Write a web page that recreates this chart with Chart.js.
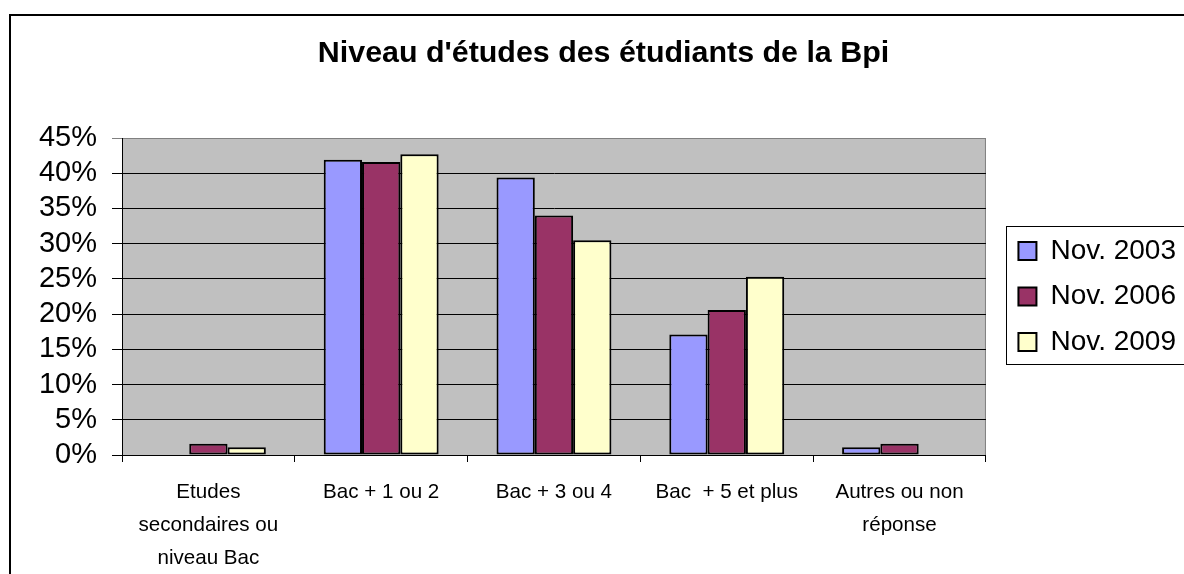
<!DOCTYPE html>
<html>
<head>
<meta charset="utf-8">
<script src="https://cdn.jsdelivr.net/npm/chart.js@4.4.0/dist/chart.umd.min.js"></script>
<style>
    html, body { margin: 0; padding: 0; background: #fff; overflow: hidden; }
    canvas { display: block; }
</style>
</head>
<body>
<canvas id="bar-chart" width="1186" height="574"></canvas>
<script>
var categories = [
    ['Etudes', 'secondaires ou', 'niveau Bac'],
    'Bac + 1 ou 2',
    'Bac + 3 ou 4',
    'Bac  + 5 et plus',
    ['Autres ou non', 'réponse']
]
var seriesNames = ['Nov. 2003', 'Nov. 2006', 'Nov. 2009']
var nov2003 = [null, 41.9, 39.4, 17.1, 1.1]
var nov2006 = [1.6, 41.6, 34.0, 20.6, 1.6]
var nov2009 = [1.1, 42.7, 30.5, 25.3, null]
var yTicks = [0, 5, 10, 15, 20, 25, 30, 35, 40, 45]
var colorList = ['#9999ff', '#993366', '#ffffcc']

Chart.defaults.font.family = "'Liberation Sans', Arial, sans-serif"
Chart.defaults.color = '#000'

// grey plot area, legend frame and the outer chart border
var framePlugin = {
    id: 'frame',
    beforeDraw: function (chart) {
        var a = chart.chartArea
        var ctx = chart.ctx
        ctx.save()
        ctx.fillStyle = '#c0c0c0'
        ctx.fillRect(a.left, a.top, a.right - a.left, a.bottom - a.top)
        ctx.strokeStyle = '#808080'
        ctx.lineWidth = 1
        ctx.strokeRect(a.left + 0.5, a.top + 0.5, a.right - a.left - 1, a.bottom - a.top)
        ctx.restore()
    },
    afterDraw: function (chart) {
        var ctx = chart.ctx
        var lg = chart.legend
        var boxes = lg.legendHitBoxes
        var last = boxes[boxes.length - 1]
        var top = Math.round(boxes[0].top - 11)
        var bottom = Math.round(last.top + last.height + 8)
        ctx.save()
        ctx.strokeStyle = '#000'
        ctx.lineWidth = 1
        ctx.strokeRect(Math.round(lg.left) + 5.5, top + 0.5, lg.width + 20, bottom - top)
        ctx.lineWidth = 2
        ctx.beginPath()
        ctx.moveTo(10, chart.height + 5)
        ctx.lineTo(10, 15)
        ctx.lineTo(chart.width + 5, 15)
        ctx.stroke()
        ctx.restore()
    }
}

function makeDataset(i, values) {
    return {
        label: seriesNames[i],
        data: values,
        backgroundColor: colorList[i],
        borderColor: '#000',
        borderWidth: 2,
        borderSkipped: false,
        categoryPercentage: 0.665,
        barPercentage: 1
    }
}

var ctx = document.getElementById('bar-chart').getContext('2d')
var barChart = new Chart(ctx, {
    type: 'bar',
    data: {
        labels: categories,
        datasets: [
            makeDataset(0, nov2003),
            makeDataset(1, nov2006),
            makeDataset(2, nov2009)
        ]
    },
    options: {
        responsive: false,
        animation: false,
        layout: {
            padding: { left: 21, top: 19, right: 0, bottom: 0 }
        },
        plugins: {
            title: {
                display: true,
                text: "Niveau d'études des étudiants de la Bpi",
                font: { size: 30.4, weight: 'bold', lineHeight: '36px' },
                padding: { top: 17, bottom: 66 }
            },
            legend: {
                position: 'right',
                labels: {
                    boxWidth: 18,
                    boxHeight: 18,
                    padding: 17.5,
                    font: { size: 28 }
                }
            },
            tooltip: { enabled: false }
        },
        scales: {
            x: {
                grid: {
                    offset: true,
                    drawOnChartArea: false,
                    tickLength: 7,
                    color: '#000'
                },
                border: { color: '#000' },
                ticks: {
                    autoSkip: false,
                    maxRotation: 0,
                    padding: 14,
                    font: { size: 20.6, lineHeight: '33px' }
                },
                afterFit: function (scale) { scale.height = 119 }
            },
            y: {
                min: 0,
                max: 45,
                afterBuildTicks: function (scale) {
                    scale.ticks = yTicks.map(function (v) { return { value: v } })
                },
                grid: {
                    tickLength: 10,
                    color: function (c) {
                        return c.tick && c.tick.value === 45 ? '#808080' : '#000'
                    }
                },
                border: { color: '#000' },
                ticks: {
                    autoSkip: false,
                    padding: 15,
                    font: { size: 29 },
                    callback: function (v) { return v + '%' }
                },
                afterFit: function (scale) { scale.width = 101 }
            },
            gap: {
                position: 'right',
                grid: { display: false },
                border: { display: false },
                ticks: { display: false },
                afterFit: function (scale) { scale.width = 15 }
            }
        }
    },
    plugins: [framePlugin]
})
</script>
</body>
</html>
